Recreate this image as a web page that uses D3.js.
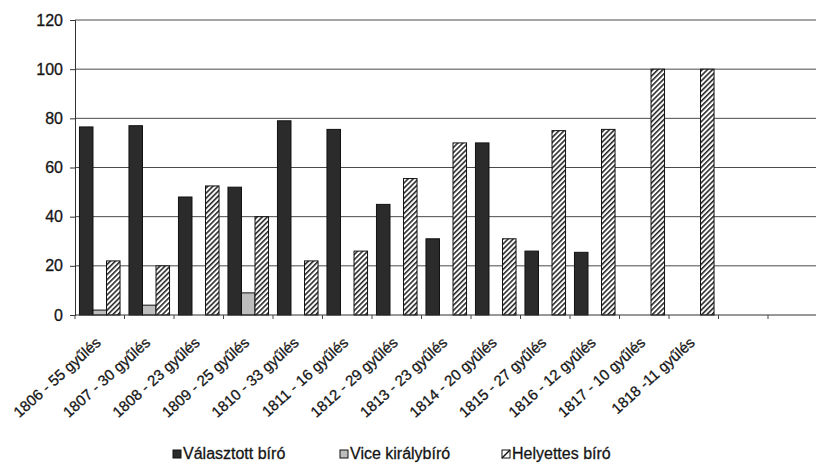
<!DOCTYPE html>
<html>
<head>
<meta charset="utf-8">
<script src="https://cdn.jsdelivr.net/npm/d3@7"></script>
<style>
  html, body { margin: 0; padding: 0; background: #ffffff; }
  svg { display: block; font-family: "Liberation Sans", Arial, sans-serif; }
  svg text { stroke: #222; stroke-width: 0.3px; }
</style>
</head>
<body>
<svg id="chart" width="816" height="465"></svg>
<script>
// ---- data ----
const categories = ["1806 - 55 gyűlés", "1807 - 30 gyűlés", "1808 - 23 gyűlés", "1809 - 25 gyűlés",
  "1810 - 33 gyűlés", "1811 - 16 gyűlés", "1812 - 29 gyűlés", "1813 - 23 gyűlés", "1814 - 20 gyűlés",
  "1815 - 27 gyűlés", "1816 - 12 gyűlés", "1817 - 10 gyűlés", "1818 -11 gyűlés"];
const seriesNames = ["Választott bíró", "Vice királybíró", "Helyettes bíró"];
const valasztott = [76.5, 77, 48, 52, 79, 75.5, 45, 31, 70, 26, 25.5, null, null];
const vice = [2, 4, null, 9, null, null, null, null, null, null, null, null, null];
const helyettes = [22, 20, 52.5, 40, 22, 26, 55.5, 70, 31, 75, 75.5, 100, 100];
const yTicks = [0, 20, 40, 60, 80, 100, 120];

const seriesValues = [valasztott, vice, helyettes];

(function () {
const svg = d3.select("#chart");
const W = 816;
const mLeft = 75, mTop = 20, mBottom = 315;
const step = 49.5;
const nSlots = 15; // 13 categories + 2 empty slots at right

const x = d3.scaleBand().domain(categories).range([mLeft, mLeft + categories.length * step]).paddingInner(0).paddingOuter(0);
const x1 = d3.scaleBand().domain(seriesNames).range([0, x.bandwidth()]).paddingInner(0).paddingOuter(0.33);
const y = d3.scaleLinear().domain([0, 120]).range([mBottom, mTop]);

// patterns
const defs = svg.append("defs");
const pat = defs.append("pattern").attr("id", "hatch").attr("patternUnits", "userSpaceOnUse")
  .attr("width", 3.6).attr("height", 3.6).attr("patternTransform", "rotate(45)");
pat.append("rect").attr("width", 3.6).attr("height", 3.6).attr("fill", "#fff");
pat.append("line").attr("x1", 0.8).attr("y1", 0).attr("x2", 0.8).attr("y2", 3.6)
  .attr("stroke", "#1a1a1a").attr("stroke-width", 1.5);

const fills = ["#2b2b2b", "#bdbdbd", "url(#hatch)"];

// gridlines
svg.append("g").selectAll("line").data(yTicks.filter(d => d > 0)).join("line")
  .attr("x1", mLeft).attr("x2", W).attr("y1", d => y(d)).attr("y2", d => y(d))
  .attr("stroke", "#4a4a4a").attr("stroke-width", 1);

// y axis
const yAxis = svg.append("g").attr("transform", `translate(${mLeft},0)`)
  .call(d3.axisLeft(y).tickValues(yTicks).tickSize(5).tickPadding(7));
yAxis.select(".domain").attr("stroke", "#333");
yAxis.selectAll(".tick line").attr("stroke", "#333");
yAxis.selectAll("text").attr("font-size", 16).attr("fill", "#111")
  .attr("font-family", "Liberation Sans, Arial, sans-serif");

// bars
const groups = svg.append("g").selectAll("g").data(categories).join("g")
  .attr("transform", d => `translate(${x(d)},0)`);
seriesNames.forEach((s, si) => {
  groups.each(function (c, ci) {
    const v = seriesValues[si][ci];
    if (v === null || v === undefined) return;
    d3.select(this).append("rect")
      .attr("x", x1(s)).attr("width", x1.bandwidth())
      .attr("y", y(v)).attr("height", y(0) - y(v))
      .attr("fill", fills[si]).attr("stroke", "#111").attr("stroke-width", 1);
  });
});

// x axis baseline + ticks
svg.append("line").attr("x1", mLeft).attr("x2", W).attr("y1", y(0)).attr("y2", y(0))
  .attr("stroke", "#333").attr("stroke-width", 1.2);
const tickXs = d3.range(0, nSlots + 1).map(i => mLeft + i * step);
svg.append("g").selectAll("line").data(tickXs).join("line")
  .attr("x1", d => d).attr("x2", d => d).attr("y1", y(0)).attr("y2", y(0) + 4)
  .attr("stroke", "#444").attr("stroke-width", 1);

// x labels
svg.append("g").selectAll("text").data(categories).join("text")
  .attr("transform", d => `translate(${x(d) + x.bandwidth() / 2 + 2},${y(0) + 29}) rotate(-42)`)
  .attr("text-anchor", "end")
  .attr("font-size", 15).attr("fill", "#111")
  .text(d => d);

// legend
const legendX = [173, 340, 502];
const lg = svg.append("g").selectAll("g").data(seriesNames).join("g")
  .attr("transform", (d, i) => `translate(${legendX[i]},450)`);
lg.append("rect").attr("width", 8).attr("height", 8)
  .attr("fill", (d, i) => i === 2 ? "#fff" : fills[i]).attr("stroke", "#111").attr("stroke-width", 1);
lg.filter((d, i) => i === 2).append("line").attr("x1", 0).attr("y1", 8).attr("x2", 8).attr("y2", 0)
  .attr("stroke", "#111").attr("stroke-width", 1.5);
lg.append("text").attr("x", 10).attr("y", 9).attr("font-size", 16).attr("fill", "#111").text(d => d);
})();
</script>
</body>
</html>
